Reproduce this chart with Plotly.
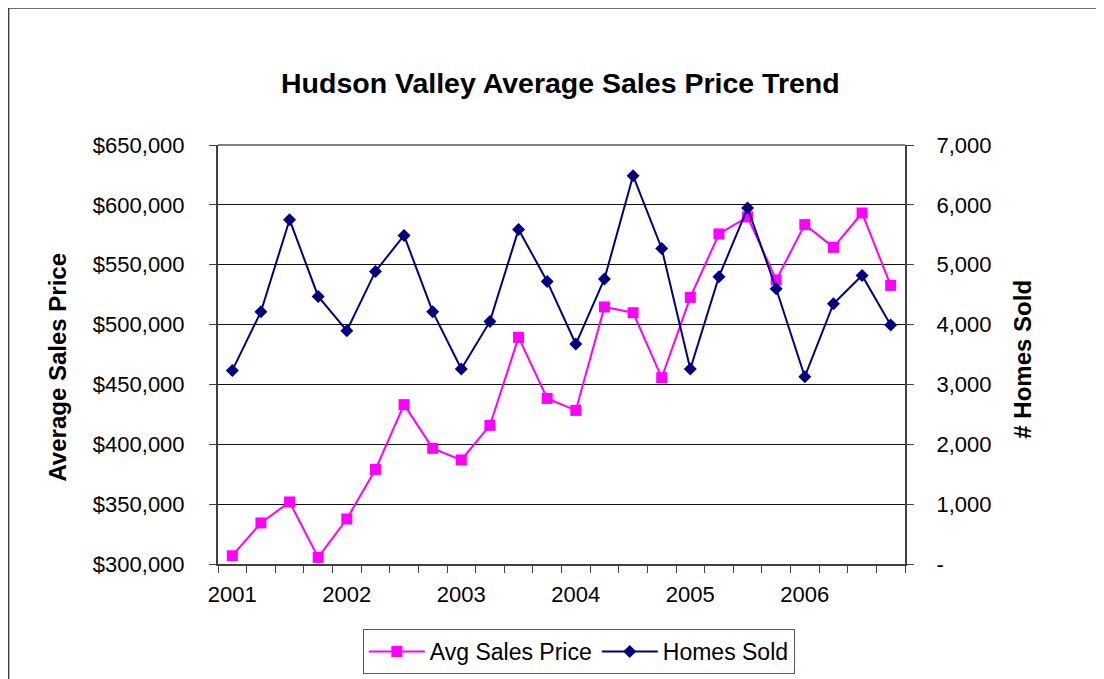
import plotly.graph_objects as go

quarters = [
    "2001 Q1", "2001 Q2", "2001 Q3", "2001 Q4",
    "2002 Q1", "2002 Q2", "2002 Q3", "2002 Q4",
    "2003 Q1", "2003 Q2", "2003 Q3", "2003 Q4",
    "2004 Q1", "2004 Q2", "2004 Q3", "2004 Q4",
    "2005 Q1", "2005 Q2", "2005 Q3", "2005 Q4",
    "2006 Q1", "2006 Q2", "2006 Q3", "2006 Q4",
]

avg_sales_price = [
    306900, 334300, 351800, 305500,
    337600, 379000, 433100, 396600,
    386900, 415800, 489300, 438300,
    428300, 514700, 509900, 455600,
    522700, 575700, 589900, 537300,
    583500, 564500, 593200, 532700,
]
homes_sold = [
    3234, 4215, 5752, 4470,
    3898, 4888, 5490, 4215,
    3258, 4053, 5590, 4721,
    3675, 4761, 6487, 5272,
    3258, 4800, 5947, 4599,
    3129, 4348, 4821, 3993,
]

left_ticks = [300000, 350000, 400000, 450000, 500000, 550000, 600000, 650000]
left_ticktext = ["$300,000", "$350,000", "$400,000", "$450,000",
                 "$500,000", "$550,000", "$600,000", "$650,000"]
right_ticks = [0, 1000, 2000, 3000, 4000, 5000, 6000, 7000]
right_ticktext = ["-", "1,000", "2,000", "3,000", "4,000", "5,000", "6,000", "7,000"]

FONT = "Liberation Sans, Arial, sans-serif"

x_ticktext = []
for q in quarters:
    y, qq = q.split(" ")
    x_ticktext.append(y if qq == "Q1" else "")

fig = go.Figure()
fig.add_trace(go.Scatter(
    x=quarters, y=avg_sales_price, name="Avg Sales Price", mode="lines+markers",
    line=dict(color="#FF00FF", width=2),
    marker=dict(symbol="square", size=11, color="#FF00FF"),
    yaxis="y",
))
fig.add_trace(go.Scatter(
    x=quarters, y=homes_sold, name="Homes Sold", mode="lines+markers",
    line=dict(color="#000080", width=2),
    marker=dict(symbol="diamond", size=10, color="#000080"),
    yaxis="y2",
))

# page renders with an 8px offset; plot area target: x 217.7-905, y 145.3-564.3
OFF = 8
L, T = 218 - OFF, 145 - OFF
W, H = 687, 419

def px_x(px):
    return (px - 217.7) / 687.3

def px_y(py):
    return (564.3 - py) / 419

fig.update_layout(
    width=1104, height=679,
    margin=dict(l=L, r=1104 - L - W, t=T, b=679 - T - H),
    paper_bgcolor="white", plot_bgcolor="white",
    font=dict(family=FONT, color="black", size=22),
    showlegend=True,
    legend=dict(
        orientation="h", x=px_x(578.7), xanchor="center", y=px_y(629.3), yanchor="top",
        bordercolor="#555555", borderwidth=1, bgcolor="white",
        font=dict(size=23, family=FONT), itemwidth=56,
    ),
    xaxis=dict(
        type="category", tickmode="array", tickvals=quarters, ticktext=x_ticktext,
        tickson="boundaries", ticks="outside", ticklen=7, tickcolor="#404040",
        tickangle=0,
        showline=True, linecolor="#404040", linewidth=2,
        showgrid=False, zeroline=False,
        ticklabelstandoff=10,
        tickfont=dict(size=22),
        range=[-0.5, 23.5],
    ),
    yaxis=dict(
        range=[300000, 650000], tickmode="array", tickvals=left_ticks, ticktext=left_ticktext,
        ticks="outside", ticklen=7, tickcolor="#404040",
        showline=True, linecolor="#404040", linewidth=2,
        showgrid=True, gridcolor="#111111", gridwidth=1, zeroline=False,
        ticklabelstandoff=20,
        tickfont=dict(size=22),
    ),
    yaxis2=dict(
        range=[0, 7000], overlaying="y", side="right",
        tickmode="array", tickvals=right_ticks, ticktext=right_ticktext,
        ticks="outside", ticklen=7, tickcolor="#404040",
        showline=True, linecolor="#404040", linewidth=2,
        showgrid=False, zeroline=False,
        ticklabelstandoff=18,
        tickfont=dict(size=22),
    ),
    annotations=[
        dict(text="<b>Hudson Valley Average Sales Price Trend</b>", xref="paper", yref="paper",
             x=px_x(560.5), y=px_y(83), xanchor="center", yanchor="middle",
             showarrow=False, font=dict(size=28.5, family=FONT)),
        dict(text="<b>Average Sales Price</b>", xref="paper", yref="paper",
             x=px_x(57.5), y=px_y(367), xanchor="center", yanchor="middle",
             textangle=-90, showarrow=False, font=dict(size=24, family=FONT)),
        dict(text="<b># Homes Sold</b>", xref="paper", yref="paper",
             x=px_x(1023), y=px_y(359), xanchor="center", yanchor="middle",
             textangle=-90, showarrow=False, font=dict(size=24, family=FONT)),
    ],
    shapes=[
        dict(type="line", xref="paper", yref="paper", x0=0, x1=1, y0=1, y1=1,
             line=dict(color="#808080", width=2)),
        dict(type="rect", xref="paper", yref="paper",
             x0=px_x(8), x1=px_x(1125), y0=px_y(700), y1=px_y(8),
             line=dict(color="#404040", width=2), fillcolor="rgba(0,0,0,0)", layer="below"),
    ],
)

fig.write_html("out.html")
